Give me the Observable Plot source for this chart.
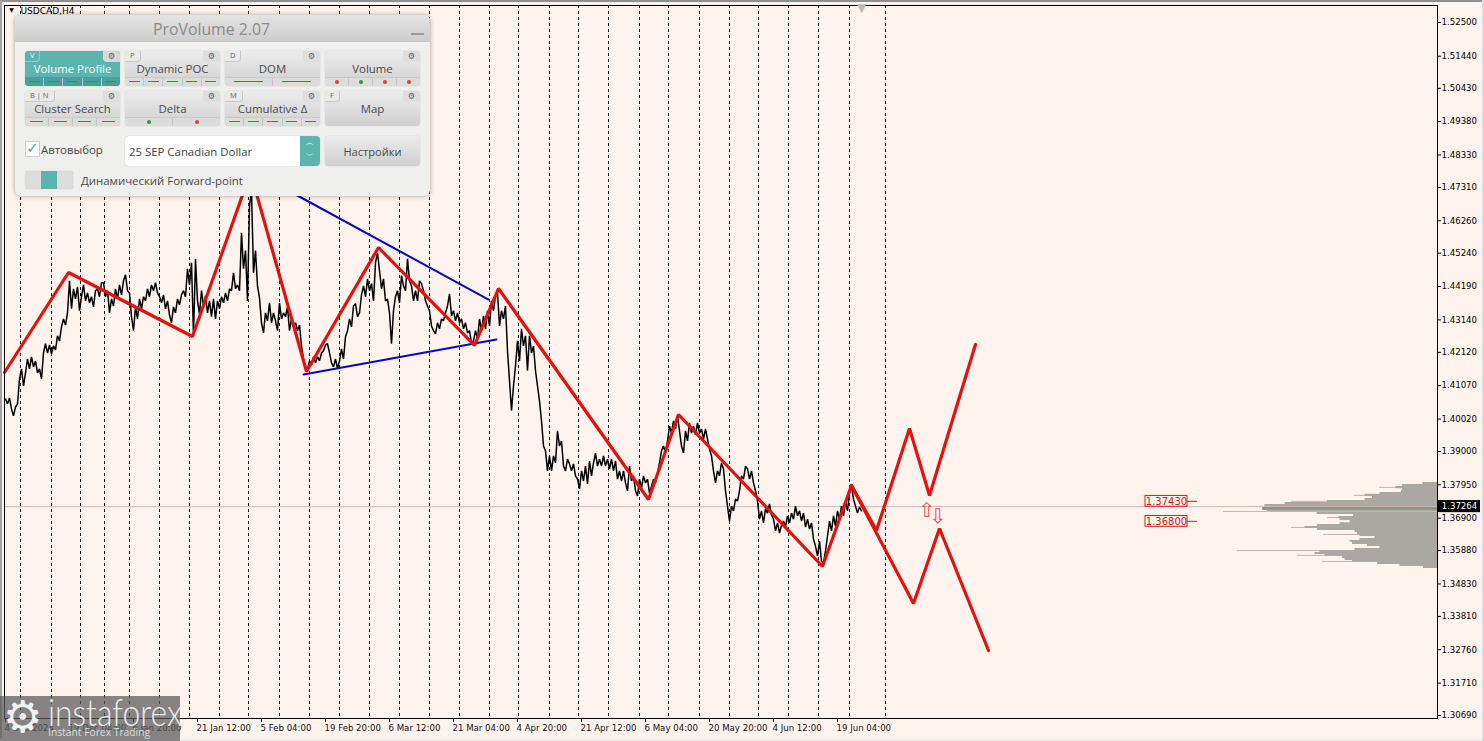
<!DOCTYPE html>
<html><head><meta charset="utf-8">
<script src="https://cdn.jsdelivr.net/npm/d3@7"></script>
<script src="https://cdn.jsdelivr.net/npm/@observablehq/plot@0.6"></script>
<style>
html,body{margin:0;padding:0;background:#fff4ed;overflow:hidden}
#wrap{position:relative;width:1484px;height:741px;overflow:hidden}
svg{display:block}
.strip{position:absolute}
#panel{position:absolute;left:15px;top:15px;width:415px;height:181px;border-radius:6px;background:#efefee;box-shadow:0 0 5px rgba(0,0,0,.35);font-family:"Open Sans",sans-serif;color:#4a4a4a;overflow:hidden}
#title{position:absolute;left:0;top:0;width:393px;padding-right:22px;height:26px;line-height:28px;text-align:center;background:linear-gradient(#e4e4e4,#cdcdcd);border-bottom:1px solid #c4c4c4;font-size:15.8px;color:#8b8b8b}
#minus{position:absolute;right:6px;top:18px;width:13px;height:2px;background:#9a9a9a}
.btn{position:absolute;width:95px;height:35px;border-radius:4px;background:linear-gradient(#ececec,#cfcfcf);box-shadow:0 0 1px #999;font-size:11.4px;text-align:center;line-height:36px;overflow:hidden}
.btn.on{background:#5cb4af;color:#fff}
.key{position:absolute;left:0;top:0;height:10px;line-height:9px;padding:0 5px;font-size:7.5px;background:#e9e9e9;border:1px solid #c8c8c8;border-top:0;border-left:0;border-radius:0 0 4px 0;color:#666}
.btn.on .key{background:#5cb4af;border-color:#8fcfcb;color:#dff}
.gear{position:absolute;right:0;top:0;width:17px;height:11px;line-height:10px;font-size:8.5px;background:#dedede;border-radius:0 0 0 4px;color:#666;font-family:"DejaVu Sans"}
.btn.on .gear{background:#d8d8d8}
.marks{position:absolute;left:0;right:0;bottom:0;height:8px;display:flex;background:#dcdcdc;border-top:1px solid #c9c9c9}
.btn.on .marks{background:#4a9f9a;border-color:#4a9f9a}
.mark{flex:1;position:relative;border-left:1px solid #c4c4c4}
.mark:first-child{border-left:0}
.mark i{position:absolute;left:20%;right:20%;top:3px;height:1.4px}
.mark b{position:absolute;left:50%;top:1.5px;margin-left:-2px;width:4px;height:4px;border-radius:50%}
#combo{position:absolute;left:110px;top:121px;width:195px;height:30px;border-radius:4px;background:#fff;box-shadow:0 0 1px #aaa;font-size:11.4px;line-height:31px;padding-left:4px;box-sizing:border-box;color:#444}
#spin{position:absolute;right:0;top:0;width:20px;height:30px;background:#5cb4af;border-radius:0 4px 4px 0;color:#e8ffff;text-align:center;font:8px/13px "DejaVu Sans"}
#settings{position:absolute;left:310px;top:121px;width:95px;height:30px;line-height:31px;border-radius:4px;background:linear-gradient(#ececec,#cfcfcf);box-shadow:0 0 1px #999;text-align:center;font-size:11.1px}
#chk{position:absolute;left:10px;top:126px;width:13px;height:14px;background:#fff;border:1px solid #ccc;color:#4ba9a4;font:15px/12px "DejaVu Sans";text-align:center}
#auto{position:absolute;left:26px;top:127px;font-size:11.4px;line-height:16px}
#tog{position:absolute;left:10px;top:156px;width:48px;height:18px;border-radius:3px;background:#dcdcdc;box-shadow:0 0 1px #aaa}
#tog i{position:absolute;left:16px;top:0;width:16px;height:18px;background:#5cb4af}
#fwd{position:absolute;left:66px;top:158px;font-size:11.4px;line-height:16px}
#logo{position:absolute;left:0;top:696px;width:180px;height:45px;background:rgba(92,92,92,.74);color:#ececec}
#logoName{position:absolute;left:48px;top:1px;font:300 37px/30px Lato,sans-serif;transform-origin:left top;transform:scaleX(.86)}
#logoSub{position:absolute;left:48px;top:30px;font:10.3px/13px "Open Sans",sans-serif;color:#ddd}
#logoGear{position:absolute;left:3px;top:0;font:44px/42px "DejaVu Sans";color:#f2f2f2}
</style></head><body><div id="wrap"></div>
<script>
const bg = "#fff4ed";
const priceTicks = [1.525,1.5144,1.5043,1.4938,1.4833,1.4731,1.4626,1.4524,1.4419,1.4314,1.4212,1.4107,1.4002,1.39,1.3795,1.369,1.3588,1.3483,1.3381,1.3276,1.3171,1.3069];
const timeTickBars = [5,69,133,197,261,325,389,453,517,581,645,709,773,837];
const timeTickLabels = ["4 Dec 2024","19 Dec 04:00","6 Jan 20:00","21 Jan 12:00","5 Feb 04:00","19 Feb 20:00","6 Mar 12:00","21 Mar 04:00","4 Apr 20:00","21 Apr 12:00","6 May 04:00","20 May 20:00","4 Jun 12:00","19 Jun 04:00"];
const sessionBars = [20,51,80,104,129,159,189,219,248,279,309,339,369,399,429,459,489,518,549,578,608,639,668,699,729,758,788,818,849,885];
const firstBar = 5, barStep = 2;
const pricePips = [14065,14050,14068,14034,14012,14040,14050,14128,14160,14106,14147,14191,14160,14198,14166,14185,14147,14160,14128,14210,14239,14210,14235,14207,14232,14220,14264,14248,14292,14317,14298,14336,14437,14349,14412,14380,14418,14343,14387,14424,14374,14399,14368,14387,14355,14406,14412,14387,14431,14431,14387,14406,14336,14380,14358,14412,14380,14424,14393,14437,14456,14406,14399,14324,14280,14355,14317,14380,14349,14387,14374,14412,14387,14424,14406,14431,14399,14387,14368,14393,14349,14374,14330,14305,14355,14336,14380,14361,14393,14406,14387,14475,14424,14494,14264,14506,14374,14333,14406,14358,14390,14336,14374,14324,14380,14317,14374,14349,14387,14368,14399,14374,14412,14406,14462,14412,14424,14406,14588,14475,14532,14374,14673,14720,14462,14532,14421,14383,14305,14273,14336,14311,14368,14305,14336,14311,14280,14368,14317,14336,14324,14355,14280,14317,14292,14305,14280,14298,14232,14191,14160,14160,14185,14172,14198,14179,14198,14185,14210,14217,14235,14239,14210,14179,14166,14191,14160,14185,14223,14191,14261,14280,14317,14292,14358,14365,14324,14336,14393,14421,14387,14443,14406,14428,14374,14494,14525,14469,14412,14443,14374,14380,14336,14239,14343,14387,14406,14368,14453,14421,14406,14506,14437,14421,14374,14406,14374,14437,14428,14406,14374,14358,14343,14295,14280,14270,14305,14286,14317,14311,14336,14358,14396,14327,14343,14311,14336,14305,14317,14286,14305,14273,14280,14242,14248,14280,14254,14317,14280,14327,14286,14343,14295,14374,14343,14390,14399,14295,14343,14317,14358,14217,14122,14028,14106,14169,14248,14185,14286,14232,14264,14154,14264,14210,14232,14154,14106,14059,13996,13917,13902,13839,13886,13839,13886,13864,13965,13917,13933,13854,13839,13876,13861,13839,13861,13823,13813,13782,13839,13807,13854,13798,13870,13823,13864,13895,13854,13876,13854,13886,13854,13876,13845,13876,13839,13870,13813,13839,13807,13839,13801,13776,13854,13807,13823,13776,13760,13813,13785,13823,13801,13813,13769,13791,13813,13801,13832,13864,13902,13917,13895,13933,13980,13958,13996,13971,14012,13965,13917,13895,13965,13933,13990,13958,13980,13952,13990,13958,13971,13939,13971,13939,13908,13886,13839,13801,13839,13823,13864,13845,13776,13728,13681,13728,13713,13750,13744,13776,13823,13813,13854,13845,13813,13839,13801,13776,13744,13687,13713,13675,13719,13706,13735,13700,13687,13650,13675,13643,13668,13681,13662,13697,13675,13706,13687,13728,13697,13713,13681,13706,13662,13687,13656,13675,13624,13602,13571,13618,13555,13549,13587,13634,13681,13650,13697,13665,13713,13687,13728,13697,13744,13713,13769,13791,13750,13728,13706,13725,13713];
const zigzagBars = [4,68,192,250,306,378,474,498,648,678,822,851];
const zigzagPrices = [1.41485,1.44632,1.42618,1.47779,1.41516,1.45419,1.42335,1.44128,1.37488,1.40163,1.35379,1.37928];
const bullBars = [851,876,909,929,975];
const bullPrices = [1.37928,1.36512,1.39722,1.37614,1.42366];
const bearBars = [851,913,939,988];
const bearPrices = [1.37928,1.34215,1.36575,1.32736];
const lowerTrendBars = [303,496], lowerTrendPrices = [1.41422,1.42523];
const upperTrendBars = [295,488], upperTrendPrices = [1.47087,1.43782];
const lastPrice = 1.37264, pocPrice = 1.3711, axisBar = 1437;
const levelPrices = [1.3743,1.368];
const profilePrices = [1.3802,1.3796,1.379,1.3783,1.3777,1.3771,1.3765,1.3758,1.3752,1.3746,1.3739,1.3733,1.3727,1.372,1.3714,1.3708,1.3702,1.3695,1.3689,1.3683,1.3676,1.367,1.3664,1.3658,1.3651,1.3645,1.3639,1.3632,1.3626,1.362,1.3614,1.3607,1.3601,1.3595,1.3588,1.3582,1.3576,1.357,1.3563,1.3557,1.3551,1.3544,1.3538,1.3532];
const profileVolumes = [4,25,45,38,32,40,75,70,60,85,135,170,175,175,175,165,76,92,105,90,85,110,130,135,105,60,100,55,70,85,90,80,60,55,110,125,120,105,85,100,70,50,25,3];
const spikePrices = [1.3787,1.3762,1.3743,1.3727,1.3692,1.3686,1.3661,1.3639,1.3626,1.3588,1.3573,1.3554];
const spikeVolumes = [58,83,146,190,110,93,146,114,73,200,140,115];

const series = pricePips.map((p,i)=>({bar:firstBar+i*barStep, price:p/10000}));
const pts = (b,p)=>b.map((x,i)=>({x,y:p[i]}));
const redStyle = {x:"x",y:"y",stroke:"#e01212",strokeWidth:3.2,strokeLinejoin:"miter"};
const blueStyle = {x:"x",y:"y",stroke:"#0505c8",strokeWidth:2};
const ff = "DejaVu Sans";
const box = levelPrices.map(p=>({p,lo:p-0.0017,hi:p+0.0017}));

const chart = Plot.plot({
  width:1484,height:741,marginLeft:4,marginRight:47,marginTop:5,marginBottom:23,
  style:{background:bg,fontFamily:ff},
  x:{domain:[4,axisBar],axis:null},
  y:{domain:[1.30596,1.53035],axis:null},
  marks:[
    Plot.ruleX(sessionBars,{stroke:"#000",strokeWidth:1,strokeDasharray:"3,3"}),
    Plot.ruleY(spikePrices.map((p,i)=>({p,v:spikeVolumes[i]})),{y:"p",x1:d=>axisBar-d.v,x2:axisBar,stroke:"#b9b5b1",strokeWidth:1}),
    Plot.areaX(profilePrices.map((p,i)=>({p,v:profileVolumes[i]})),{y:"p",x1:d=>axisBar-d.v,x2:axisBar,fill:"#aba7a3",curve:"step"}),
    Plot.ruleY([1.3722],{x1:1263,x2:axisBar,stroke:"#8f8b87",strokeWidth:3}),
    Plot.ruleY([pocPrice],{x1:1223,x2:axisBar,stroke:"#f3a79e",strokeWidth:1.2}),
    Plot.ruleY([lastPrice],{x1:4,x2:axisBar,stroke:"#c9bcb6",strokeWidth:1}),
    Plot.line(series,{x:"bar",y:"price",stroke:"#000",strokeWidth:1.5,strokeLinejoin:"bevel"}),
    Plot.line(pts(lowerTrendBars,lowerTrendPrices),blueStyle),
    Plot.line(pts(upperTrendBars,upperTrendPrices),blueStyle),
    Plot.line(pts(zigzagBars,zigzagPrices),redStyle),
    Plot.line(pts(bullBars,bullPrices),redStyle),
    Plot.line(pts(bearBars,bearPrices),redStyle),
    Plot.text(["⇧"],{x:926,y:1.3713,fill:"#e4504a",fontSize:20,fontFamily:ff}),
    Plot.text(["⇩"],{x:937,y:1.3694,fill:"#e4504a",fontSize:20,fontFamily:ff}),
    Plot.rect(box,{x1:1145,x2:1187,y1:"lo",y2:"hi",stroke:"#d81818",fill:"none",strokeWidth:1}),
    Plot.ruleY(levelPrices,{x1:1187,x2:1197,stroke:"#d81818",strokeWidth:1}),
    Plot.text(levelPrices,{x:1166,y:d=>d,text:d=>d.toFixed(5),fill:"#d81818",fontSize:10,fontFamily:ff}),
    Plot.frame({stroke:"#000",strokeWidth:1}),
    Plot.axisY({ticks:priceTicks,anchor:"right",tickFormat:d=>d.toFixed(5),tickSize:3,tickPadding:1,label:null,fontSize:8.6,fontFamily:ff}),
    Plot.axisX({ticks:timeTickBars,anchor:"bottom",tickFormat:()=>"",tickSize:4,label:null}),
    Plot.text(timeTickLabels,{x:timeTickBars,frameAnchor:"bottom",dy:12,textAnchor:"start",dx:-1,fontSize:8.6,fill:"#111",fontFamily:ff}),
    Plot.rect([lastPrice],{x1:1438,x2:1480,y1:d=>d-0.0019,y2:d=>d+0.0019,fill:"#000"}),
    Plot.text([lastPrice],{x:1459,y:d=>d,text:d=>d.toFixed(5),fill:"#fff",fontSize:8.6,fontFamily:ff}),
    Plot.text(["▼"],{x:861,frameAnchor:"top",dy:-2,fill:"#bbb",fontSize:12,fontFamily:ff}),
    Plot.text(["▼"],{x:11,frameAnchor:"top",dy:2,fill:"#000",fontSize:6,fontFamily:ff}),
    Plot.text(["USDCAD,H4"],{x:20,frameAnchor:"top",dy:2,textAnchor:"start",fill:"#000",fontSize:9,fontFamily:ff})
  ]
});
const wrap = document.getElementById("wrap");
wrap.appendChild(chart);

const strips = [["0","0","1484px","2px","#8f8f8f"],["0","0","2px","741px","#a3a3a3"],["0","739px","1484px","2px","#ededed"],["1482px","0","2px","741px","#dcdcdc"]];
strips.forEach(s=>{const d=document.createElement("div");d.className="strip";d.style.cssText=`left:${s[0]};top:${s[1]};width:${s[2]};height:${s[3]};background:${s[4]}`;wrap.appendChild(d);});

const g="#2f8f4f", r="#d0443c";
const buttons = [
 {n:"Volume Profile",k:"V",on:1,m:["g-","r-","r-","r-","r-"]},
 {n:"Dynamic POC",k:"P",m:["r-","r-","r-","r-","g-"]},
 {n:"DOM",k:"D",m:["g-","r-"]},
 {n:"Volume",m:["r.","g.","r.","r."]},
 {n:"Cluster Search",k:"B | N",m:["r-","r-","r-","r-"]},
 {n:"Delta",m:["g.","r."]},
 {n:"Cumulative Δ",k:"M",m:["g-","r-","g-","r-","r-"]},
 {n:"Map",k:"F",m:[]}
];
const panel = document.createElement("div"); panel.id="panel";
let html = `<div id="title">ProVolume 2.07<div id="minus"></div></div>`;
buttons.forEach((b,i)=>{
  const left = 10+(i%4)*100, top = 36+Math.floor(i/4)*40;
  const marks = b.m.map(t=>`<div class="mark">${t[1]==="-"?`<i style="background:${t[0]==="g"?g:r}"></i>`:`<b style="background:${t[0]==="g"?g:r}"></b>`}</div>`).join("");
  html += `<div class="btn${b.on?" on":""}" style="left:${left}px;top:${top}px">${b.k?`<div class="key">${b.k}</div>`:""}<div class="gear">⚙</div>${b.n}${b.m.length?`<div class="marks">${marks}</div>`:""}</div>`;
});
html += `<div id="chk">✓</div><div id="auto">Автовыбор</div><div id="combo">25 SEP Canadian Dollar<div id="spin">︿<br>﹀</div></div><div id="settings">Настройки</div><div id="tog"><i></i></div><div id="fwd">Динамический Forward-point</div>`;
panel.innerHTML = html;
wrap.appendChild(panel);

const logo = document.createElement("div"); logo.id="logo";
logo.innerHTML = `<div id="logoGear">⚙</div><div id="logoName">instaforex</div><div id="logoSub">Instant Forex Trading</div>`;
wrap.appendChild(logo);
</script></body></html>
